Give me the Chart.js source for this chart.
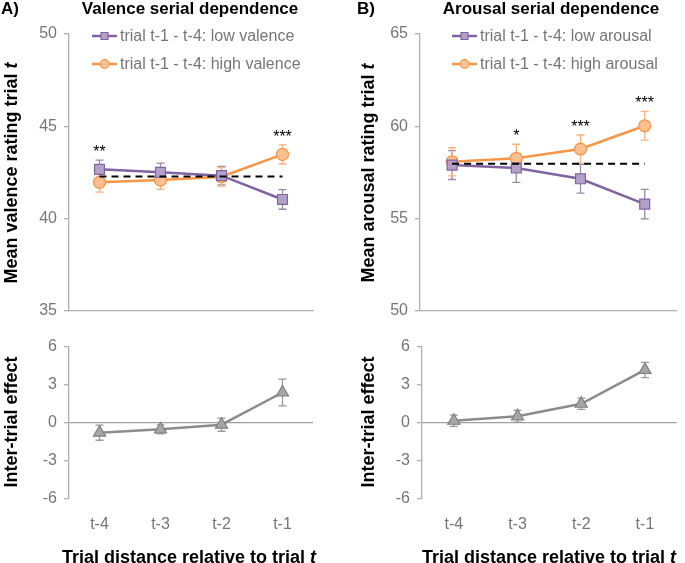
<!DOCTYPE html>
<html>
<head>
<meta charset="utf-8">
<script src="https://cdn.jsdelivr.net/npm/chart.js@4"></script>
<style>
  body { margin: 0; background: #fff; }
  #wrap { position: relative; width: 685px; height: 563px; overflow: hidden; font-family: "Liberation Sans", Arial, sans-serif; }
  canvas { position: absolute; }
  .txt { position: absolute; white-space: nowrap; font-weight: bold; color: #000; line-height: 1; }
  .ytitle { position: absolute; white-space: nowrap; font-weight: bold; font-size: 18px; transform: translate(-50%, -50%) rotate(-90deg); }
</style>
</head>
<body>
<div id="wrap">
  <canvas id="valence" style="left:0;top:0" width="330" height="330"></canvas>
  <canvas id="arousal" style="left:345px;top:0" width="340" height="330"></canvas>
  <canvas id="valenceDiff" style="left:0;top:330px" width="330" height="233"></canvas>
  <canvas id="arousalDiff" style="left:345px;top:330px" width="340" height="233"></canvas>

  <div class="txt" style="left:1px;top:0;font-size:17px">A)</div>
  <div class="txt" style="left:190px;top:0;font-size:17px;transform:translateX(-50%)">Valence serial dependence</div>
  <div class="txt" style="left:357px;top:0;font-size:17px">B)</div>
  <div class="txt" style="left:551px;top:0;font-size:17px;transform:translateX(-50%)">Arousal serial dependence</div>

  <div class="ytitle" style="left:11px;top:173px">Mean valence rating trial <i>t</i></div>
  <div class="ytitle" style="left:368px;top:173px">Mean arousal rating trial <i>t</i></div>
  <div class="ytitle" style="left:11px;top:422px">Inter-trial effect</div>
  <div class="ytitle" style="left:368px;top:422px">Inter-trial effect</div>

  <div class="txt" style="left:189px;top:548px;font-size:18px;transform:translateX(-50%)">Trial distance relative to trial <i>t</i></div>
  <div class="txt" style="left:549px;top:548px;font-size:18px;transform:translateX(-50%)">Trial distance relative to trial <i>t</i></div>
</div>

<script>
// Data
const categories = ['t-4', 't-3', 't-2', 't-1'];

const valenceLow = [42.67, 42.51, 42.33, 41.04];
const valenceLowErr = [0.5, 0.5, 0.5, 0.53];
const valenceHigh = [41.97, 42.09, 42.27, 43.48];
const valenceHighErr = [0.53, 0.5, 0.5, 0.52];
const valenceBaseline = [42.28, 42.28, 42.28, 42.28];
const valenceSig = ['**', '', '', '***'];

const arousalLow = [57.9, 57.74, 57.16, 55.79];
const arousalLowErr = [0.78, 0.78, 0.78, 0.8];
const arousalHigh = [58.08, 58.27, 58.77, 60.03];
const arousalHighErr = [0.76, 0.76, 0.76, 0.78];
const arousalBaseline = [57.98, 57.98, 57.98, 57.98];
const arousalSig = ['', '*', '***', '***'];

const valenceEffect = [-0.79, -0.53, -0.16, 2.38];
const valenceEffectErr = [0.6, 0.35, 0.52, 1.06];
const arousalEffect = [0.15, 0.5, 1.49, 4.16];
const arousalEffectErr = [0.45, 0.47, 0.45, 0.6];

const valenceTicks = [35, 40, 45, 50];
const arousalTicks = [50, 55, 60, 65];
const effectTicks = [-6, -3, 0, 3, 6];

const PURPLE = '#8064a2', PURPLE_FILL = '#b3a2c7', PURPLE_ERR = '#9a8aae';
const ORANGE = '#f79646', ORANGE_FILL = '#fac090', ORANGE_ERR = '#f5b482';
const GREY = '#8c8c8c', GREY_FILL = '#a6a6a6', GREY_ERR = '#9a9a9a';
const AXIS = '#b0b0b0', TICK_TEXT = '#767676';

Chart.defaults.font.family = '"Liberation Sans", Arial, sans-serif';
Chart.defaults.animation = false;

// error bars, drawn under the markers
const errorBars = {
  id: 'errorBars',
  beforeDatasetsDraw(chart) {
    const ctx = chart.ctx;
    const y = chart.scales.y;
    chart.data.datasets.forEach((ds, i) => {
      if (!ds.errors) return;
      const meta = chart.getDatasetMeta(i);
      ctx.save();
      ctx.strokeStyle = ds.errorColor;
      ctx.lineWidth = 1.3;
      meta.data.forEach((pt, j) => {
        const top = y.getPixelForValue(ds.data[j] + ds.errors[j]);
        const bot = y.getPixelForValue(ds.data[j] - ds.errors[j]);
        ctx.beginPath();
        ctx.moveTo(pt.x, top); ctx.lineTo(pt.x, bot);
        ctx.moveTo(pt.x - 4, top); ctx.lineTo(pt.x + 4, top);
        ctx.moveTo(pt.x - 4, bot); ctx.lineTo(pt.x + 4, bot);
        ctx.stroke();
      });
      ctx.restore();
    });
  }
};

// significance stars above the highest error bar
const sigStars = {
  id: 'sigStars',
  afterDatasetsDraw(chart, args, opts) {
    if (!opts.labels) return;
    const ctx = chart.ctx;
    const y = chart.scales.y;
    const x = chart.scales.x;
    ctx.save();
    ctx.fillStyle = '#000';
    ctx.font = '16px "Liberation Sans", Arial, sans-serif';
    ctx.textAlign = 'center';
    ctx.textBaseline = 'alphabetic';
    opts.labels.forEach((lab, j) => {
      if (!lab) return;
      let top = -Infinity;
      chart.data.datasets.forEach(ds => {
        if (ds.errors) top = Math.max(top, ds.data[j] + ds.errors[j]);
      });
      ctx.fillText(lab, x.getPixelForValue(j), y.getPixelForValue(top) - 3);
    });
    ctx.restore();
  }
};

// Excel style legend inside the plot area
const lineLegend = {
  id: 'lineLegend',
  afterDraw(chart, args, opts) {
    if (!opts.display) return;
    const ctx = chart.ctx;
    const area = chart.chartArea;
    let row = 0;
    chart.data.datasets.forEach(ds => {
      if (!ds.inLegend) return;
      const x0 = area.left + opts.x;
      const yy = area.top + opts.y + row * opts.gap;
      ctx.save();
      ctx.strokeStyle = ds.borderColor;
      ctx.lineWidth = 2.5;
      ctx.beginPath();
      ctx.moveTo(x0, yy); ctx.lineTo(x0 + 25, yy);
      ctx.stroke();
      ctx.fillStyle = ds.pointBackgroundColor;
      ctx.lineWidth = 1.2;
      ctx.beginPath();
      if (ds.pointStyle === 'rect') ctx.rect(x0 + 12.5 - 3.5, yy - 3.5, 7, 7);
      else ctx.arc(x0 + 12.5, yy, 4.5, 0, Math.PI * 2);
      ctx.fill(); ctx.stroke();
      ctx.fillStyle = TICK_TEXT;
      ctx.font = '16px "Liberation Sans", Arial, sans-serif';
      ctx.textBaseline = 'middle';
      ctx.fillText(ds.label, x0 + 28, yy + 1);
      ctx.restore();
      row++;
    });
  }
};

function lineSet(label, data, errors, color, fill, errColor, style, radius) {
  return {
    label: label, data: data, errors: errors, errorColor: errColor, inLegend: true,
    borderColor: color, borderWidth: 2.5,
    pointStyle: style, pointRadius: radius, pointBackgroundColor: fill,
    pointBorderColor: color, pointBorderWidth: 1.2
  };
}

function baseSet(data) {
  return {
    label: 'baseline', data: data, borderColor: '#000', borderWidth: 2,
    borderDash: [7, 5], pointRadius: 0
  };
}

function yScale(ticks, yWidth, gridOnChart) {
  return {
    min: ticks[0], max: ticks[ticks.length - 1],
    afterBuildTicks(s) { s.ticks = ticks.map(v => ({ value: v })); },
    afterFit(s) { s.width = yWidth; },
    ticks: { color: TICK_TEXT, font: { size: 16 }, padding: 7 },
    border: { display: true, color: AXIS, width: 1.3 },
    grid: {
      drawOnChartArea: gridOnChart,
      color: c => (c.tick && c.tick.value === 0) ? '#a0a0a0' : 'rgba(0,0,0,0)',
      lineWidth: 1.3,
      tickColor: AXIS, tickLength: 5
    }
  };
}

function topChart(id, low, lowErr, high, highErr, base, sig, ticks, names, yWidth, rightPad, legendX) {
  new Chart(document.getElementById(id), {
    type: 'line',
    data: {
      labels: categories,
      datasets: [
        baseSet(base),
        lineSet(names[0], low, lowErr, PURPLE, PURPLE_FILL, PURPLE_ERR, 'rect', 7),
        lineSet(names[1], high, highErr, ORANGE, ORANGE_FILL, ORANGE_ERR, 'circle', 6)
      ]
    },
    options: {
      responsive: false,
      layout: { padding: { top: 34, right: rightPad, bottom: 19, left: 0 } },
      plugins: {
        legend: { display: false }, tooltip: { enabled: false },
        sigStars: { labels: sig },
        lineLegend: { display: true, x: legendX, y: 2, gap: 28 }
      },
      scales: {
        x: {
          offset: true,
          afterFit(s) { s.height = 0; },
          ticks: { display: false },
          grid: { display: false, drawTicks: false },
          border: { display: true, color: AXIS, width: 1.3 }
        },
        y: yScale(ticks, yWidth, false)
      }
    },
    plugins: [errorBars, sigStars, lineLegend]
  });
}

function effectChart(id, data, errs, yWidth, rightPad) {
  new Chart(document.getElementById(id), {
    type: 'line',
    data: {
      labels: categories,
      datasets: [{
        label: 'Inter-trial effect', data: data, errors: errs, errorColor: GREY_ERR,
        borderColor: GREY, borderWidth: 2.5,
        pointStyle: 'triangle', pointRadius: 7, pointBackgroundColor: GREY_FILL,
        pointBorderColor: '#808080', pointBorderWidth: 1.2
      }]
    },
    options: {
      responsive: false,
      layout: { padding: { top: 16, right: rightPad, bottom: 14, left: 0 } },
      plugins: { legend: { display: false }, tooltip: { enabled: false } },
      scales: {
        x: {
          offset: true,
          afterFit(s) { s.height = 50.3; },
          ticks: { color: TICK_TEXT, font: { size: 16 }, padding: 16 },
          grid: { display: false, drawTicks: false },
          border: { display: false }
        },
        y: yScale(effectTicks, yWidth, true)
      }
    },
    plugins: [errorBars]
  });
}

topChart('valence', valenceLow, valenceLowErr, valenceHigh, valenceHighErr, valenceBaseline, valenceSig,
  valenceTicks, ['trial t-1 - t-4: low valence', 'trial t-1 - t-4: high valence'], 69, 17, 23);
topChart('arousal', arousalLow, arousalLowErr, arousalHigh, arousalHighErr, arousalBaseline, arousalSig,
  arousalTicks, ['trial t-1 - t-4: low arousal', 'trial t-1 - t-4: high arousal'], 75, 4, 32);
effectChart('valenceDiff', valenceEffect, valenceEffectErr, 69, 17);
effectChart('arousalDiff', arousalEffect, arousalEffectErr, 77, 4);
</script>
</body>
</html>
